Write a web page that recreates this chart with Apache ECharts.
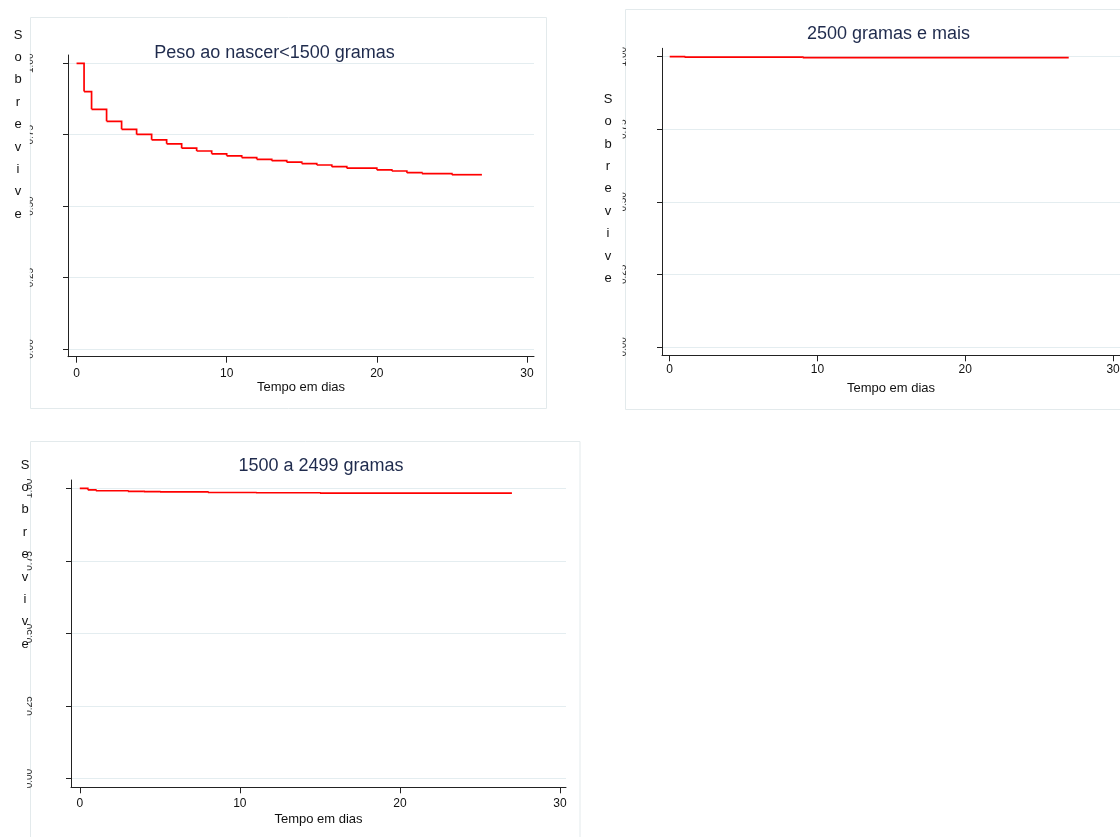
<!DOCTYPE html>
<html>
<head>
<meta charset="utf-8">
<script src="https://cdn.jsdelivr.net/npm/echarts@6/dist/echarts.min.js"></script>
<style>
  html, body { margin: 0; padding: 0; background: #ffffff; }
  #chart { width: 1120px; height: 837px; }
</style>
</head>
<body>
<div id="chart"></div>
<script>
// Kaplan-Meier survival curves by birth-weight group
const panelTitles = ['Peso ao nascer<1500 gramas', '2500 gramas e mais', '1500 a 2499 gramas'];
const xAxisTitle = 'Tempo em dias';
const yAxisTitle = 'Sobrevive';
const xTicks = [0, 10, 20, 30];
const yTicks = [0, 0.25, 0.5, 0.75, 1];
const yTickLabels = ['0.00', '0.25', '0.50', '0.75', '1.00'];

// < 1500 g
const daysLow = [0, 0.5, 1, 2, 3, 4, 5, 6, 7, 8, 9, 10, 11, 12, 13, 14, 15, 16, 17, 18, 20, 21, 22, 23, 25, 27];
const survLow = [1, 0.901, 0.839, 0.797, 0.769, 0.751, 0.732, 0.718, 0.703, 0.693, 0.683, 0.676, 0.670, 0.664, 0.659, 0.654, 0.649, 0.644, 0.638, 0.633, 0.627, 0.623, 0.617, 0.614, 0.610, 0.610];

// >= 2500 g
const daysHigh = [0, 1, 9, 27];
const survHigh = [1, 0.9985, 0.997, 0.997];

// 1500 - 2499 g
const daysMid = [0, 0.5, 1, 3, 4, 5, 8, 11, 15, 27];
const survMid = [1, 0.995, 0.992, 0.990, 0.989, 0.988, 0.986, 0.985, 0.984, 0.984];

// each step: [t, S(t), next t, S(next t)]
function toSteps(days, surv) {
  const out = [];
  for (let k = 0; k < days.length - 1; k++) out.push([days[k], surv[k], days[k + 1], surv[k + 1]]);
  return out;
}
const stepData = [toSteps(daysLow, survLow), toSteps(daysHigh, survHigh), toSteps(daysMid, survMid)];

// panel geometry
const panels = [
  { grid: { left: 68, top: 55, width: 466, height: 301.7 }, x: [-0.57, 30.47], y: [-0.027, 1.029],
    box: [30.5, 17.5, 516, 391], title: [274.5, 53], letters: [18, 23.8], labelMargin: 33,
    xLabelMargin: 11, nameGap: 24, mask: [20, 29.8] },
  { grid: { left: 662, top: 48.3, width: 458, height: 307 }, x: [-0.52, 30.47], y: [-0.029, 1.029],
    box: [625.5, 9.5, 520, 400], title: [888.5, 34], letters: [608, 88.1], labelMargin: 34,
    xLabelMargin: 8, nameGap: 27, mask: [613, 622.6] },
  { grid: { left: 71, top: 480, width: 495, height: 307.3 }, x: [-0.55, 30.38], y: [-0.030, 1.029],
    box: [30.5, 441.5, 549.5, 400], title: [321, 466], letters: [25, 453.8], labelMargin: 37,
    xLabelMargin: 10, nameGap: 26, mask: [18, 27] }
];

const FONT = '"Liberation Sans", Arial, Helvetica, sans-serif';
const axisColor = '#222';
const gridLineColor = '#e4edf0';
const boxColor = '#e3eaec';
const curveColor = '#ff0000';

const grids = [], xAxes = [], yAxes = [], series = [], graphics = [];

panels.forEach((p, i) => {
  grids.push(Object.assign({ containLabel: false, outerBoundsMode: 'none' }, p.grid));
  xAxes.push({
    type: 'value', gridIndex: i, min: p.x[0], max: p.x[1],
    name: xAxisTitle, nameLocation: 'middle', nameGap: p.nameGap,
    nameTextStyle: { fontFamily: FONT, fontSize: 13, color: '#111' },
    axisLine: { show: true, onZero: false, lineStyle: { color: axisColor, width: 1 } },
    axisTick: { show: true, length: 6, customValues: xTicks, lineStyle: { color: axisColor } },
    axisLabel: { customValues: xTicks, margin: p.xLabelMargin, fontFamily: FONT, fontSize: 12, color: '#111' },
    splitLine: { show: false }
  });
  yAxes.push({
    type: 'value', gridIndex: i, min: p.y[0], max: p.y[1],
    axisLine: { show: true, onZero: false, lineStyle: { color: axisColor, width: 1 } },
    axisTick: { show: true, length: 5, customValues: yTicks, lineStyle: { color: axisColor } },
    axisLabel: {
      customValues: yTicks, rotate: 90, margin: p.labelMargin,
      fontFamily: FONT, fontSize: 10, color: '#333',
      formatter: v => yTickLabels[yTicks.indexOf(Math.round(v * 100) / 100)] ?? ''
    },
    splitLine: { show: true, lineStyle: { color: gridLineColor, width: 1 } }
  });
  series.push({
    type: 'custom', coordinateSystem: 'cartesian2d', xAxisIndex: i, yAxisIndex: i,
    data: stepData[i], encode: { x: [0, 2], y: [1, 3] }, animation: false, z: 5,
    renderItem: (params, api) => {
      const a = api.coord([api.value(0), api.value(1)]);
      const b = api.coord([api.value(2), api.value(1)]);
      const c = api.coord([api.value(2), api.value(3)]);
      return {
        type: 'polyline', shape: { points: [a, b, c] },
        style: { stroke: curveColor, lineWidth: 1.7, fill: null }
      };
    }
  });
  graphics.push({
    type: 'rect', silent: true, z: -1,
    shape: { x: p.box[0], y: p.box[1], width: p.box[2], height: p.box[3] },
    style: { fill: 'none', stroke: boxColor, lineWidth: 1 }
  });
  // white strip trimming the outer half of the rotated tick labels
  graphics.push({
    type: 'rect', silent: true, z: 100,
    shape: { x: p.mask[0], y: p.grid.top - 20, width: p.mask[1] - p.mask[0], height: p.grid.height + 40 },
    style: { fill: '#ffffff' }
  });
  graphics.push({
    type: 'text', silent: true, z: 101,
    style: { x: p.title[0], y: p.title[1], text: panelTitles[i], textAlign: 'center', textVerticalAlign: 'middle',
      font: '18px ' + FONT, fill: '#1f2b4d' }
  });
  graphics.push({
    type: 'text', silent: true, z: 101,
    style: { x: p.letters[0], y: p.letters[1], text: yAxisTitle.split('').join('\n'),
      textAlign: 'center', textVerticalAlign: 'top', lineHeight: 22.4,
      font: '13px ' + FONT, fill: '#111' }
  });
});

const chart = echarts.init(document.getElementById('chart'), null, { renderer: 'canvas' });
chart.setOption({
  backgroundColor: '#ffffff',
  animation: false,
  grid: grids,
  xAxis: xAxes,
  yAxis: yAxes,
  series: series,
  graphic: graphics
});
</script>
</body>
</html>
